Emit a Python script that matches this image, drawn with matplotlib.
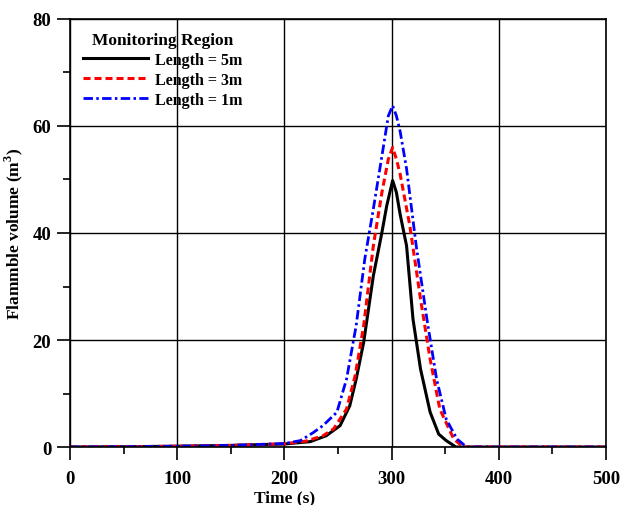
import matplotlib
matplotlib.use("Agg")
import matplotlib.pyplot as plt
from matplotlib.ticker import MultipleLocator

plt.rcParams["font.family"] = ["Liberation Serif", "DejaVu Serif"]
plt.rcParams["font.weight"] = "bold"
plt.rcParams["mathtext.fontset"] = "custom"
plt.rcParams["mathtext.rm"] = "Liberation Serif:bold"

# length = 5m
t_5m = [0, 50, 100, 150, 200, 224, 239, 252, 261, 267, 274, 283, 291, 295.5, 301,
        304.5, 308, 314, 320, 327, 336, 344, 351, 360, 380, 500]
v_5m = [0.0, 0.05, 0.15, 0.3, 0.56, 1.0, 2.1, 4.0, 7.7, 12.7, 19.6, 32.0, 40.1, 45.1, 49.8,
        47.6, 43.5, 37.6, 23.9, 14.6, 6.5, 2.4, 1.2, 0.0, 0.0, 0.0]

# length = 3m
t_3m = [0, 50, 100, 150, 200, 220, 236, 246, 258, 266, 274, 283, 291, 297, 301,
        304.5, 308, 317, 327, 336, 345, 358, 367, 380, 500]
v_3m = [0.0, 0.05, 0.15, 0.3, 0.6, 1.1, 2.1, 3.4, 7.1, 13.3, 22.7, 37.6, 47.6, 53.8, 56.0,
        53.8, 51.0, 41.4, 27.7, 16.4, 7.1, 1.5, 0.0, 0.0, 0.0]

# length = 1m
t_1m = [0, 50, 100, 150, 200, 215, 227, 236, 249, 258, 267, 275, 283, 291, 297, 301,
        304.5, 308, 314, 323, 333, 342, 351, 361, 370, 380, 500]
v_1m = [0.0, 0.05, 0.15, 0.3, 0.65, 1.2, 2.7, 4.0, 6.5, 12.7, 22.7, 35.1, 44.5, 54.4, 61.9, 63.8,
        61.9, 59.0, 52.0, 37.6, 23.9, 12.7, 5.2, 1.5, 0.0, 0.0, 0.0]

fig = plt.figure(figsize=(6.22, 5.06), dpi=100)
ax = fig.add_axes([0.1125, 0.1146, 0.8617, 0.8459])

ax.plot(t_5m, v_5m, color="black", lw=2.2, ls="-", label="Length = 5m")
ax.plot(t_3m, v_3m, color="red", lw=2.2, ls=(0, (2.3, 1.3)), label="Length = 3m")
ax.plot(t_1m, v_1m, color="blue", lw=2.0, ls=(0, (3.4, 1.2, 0.9, 1.2)), label="Length = 1m")

ax.set_xlim(0, 500)
ax.set_ylim(0, 80)
ax.xaxis.set_major_locator(MultipleLocator(100))
ax.xaxis.set_minor_locator(MultipleLocator(50))
ax.yaxis.set_major_locator(MultipleLocator(20))
ax.yaxis.set_minor_locator(MultipleLocator(10))
ax.grid(True, which="major", color="black", lw=1.0)
ax.tick_params(which="major", direction="out", length=9.5, width=1.2, labelsize=13.5)
ax.tick_params(axis="x", which="major", pad=7)
ax.tick_params(axis="y", which="major", pad=4)
ax.tick_params(which="minor", direction="out", length=5, width=1.2)
for s in ax.spines.values():
    s.set_linewidth(1.2)

ax.set_xlabel("Time (s)", fontsize=12.5, fontweight="bold")
ax.xaxis.set_label_coords(0.40, -0.098)
ax.set_ylabel("Flammble volume (m$^3$)", fontsize=12.5, fontweight="bold")
ax.yaxis.set_label_coords(-0.084, 0.5)

leg = ax.legend(loc="upper left", title="Monitoring Region", frameon=False,
                prop={"size": 11.5, "weight": "bold"}, handlelength=4.1,
                borderaxespad=0.4, labelspacing=0.25, handletextpad=0.4)
leg.get_title().set_fontsize(12.5)
leg.get_title().set_fontweight("bold")

fig.savefig("out.png", dpi=100)
